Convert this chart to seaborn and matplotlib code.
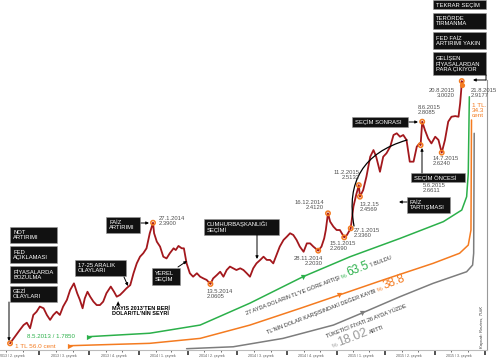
import matplotlib
matplotlib.use("Agg")
import matplotlib.pyplot as plt
import seaborn as sns
import pandas as pd
import numpy as np
from matplotlib.patches import Rectangle, FancyArrowPatch

# ---------------- data ----------------
dates = ["2013-05-08","2013-05-17","2013-05-26","2013-06-02","2013-06-08","2013-06-14","2013-06-20","2013-06-26",
         "2013-07-02","2013-07-09","2013-07-15","2013-07-21","2013-07-27","2013-08-02","2013-08-08","2013-08-14",
         "2013-08-21","2013-08-27","2013-09-03","2013-09-09","2013-09-14","2013-09-19","2013-09-23","2013-09-28",
         "2013-10-03","2013-10-09","2013-10-15","2013-10-21","2013-10-27","2013-11-02","2013-11-10","2013-11-16",
         "2013-11-21","2013-11-27","2013-12-03","2013-12-09","2013-12-16","2013-12-22","2013-12-28","2014-01-03",
         "2014-01-09","2014-01-15","2014-01-21","2014-01-27","2014-01-29","2014-02-03","2014-02-09","2014-02-15",
         "2014-02-21","2014-02-27","2014-03-06","2014-03-10","2014-03-15","2014-03-21","2014-03-25","2014-03-30",
         "2014-04-05","2014-04-11","2014-04-18","2014-04-24","2014-04-30","2014-05-06","2014-05-13","2014-05-18",
         "2014-05-25","2014-05-31","2014-06-06","2014-06-12","2014-06-18","2014-06-24","2014-06-30","2014-07-07",
         "2014-07-13","2014-07-19","2014-07-25","2014-07-31","2014-08-06","2014-08-13","2014-08-19","2014-08-25",
         "2014-08-31","2014-09-06","2014-09-12","2014-09-18","2014-09-25","2014-10-01","2014-10-07","2014-10-13",
         "2014-10-19","2014-10-25","2014-11-01","2014-11-07","2014-11-13","2014-11-19","2014-11-28","2014-12-04",
         "2014-12-09","2014-12-12","2014-12-16","2014-12-20","2014-12-26","2015-01-01","2015-01-07","2015-01-15",
         "2015-01-20","2015-01-27","2015-02-01","2015-02-06","2015-02-11","2015-02-13","2015-02-19","2015-02-25",
         "2015-03-04","2015-03-10","2015-03-15","2015-03-19","2015-03-22","2015-03-28","2015-04-03","2015-04-10",
         "2015-04-16","2015-04-22","2015-04-28","2015-05-04","2015-05-10","2015-05-16","2015-05-23","2015-05-29",
         "2015-06-03","2015-06-05","2015-06-08","2015-06-13","2015-06-19","2015-06-25","2015-07-02","2015-07-08",
         "2015-07-14","2015-07-20","2015-07-26","2015-08-01","2015-08-08","2015-08-14","2015-08-17","2015-08-19",
         "2015-08-20","2015-08-21"]
usd_try = [1.785,1.816,1.847,1.870,1.881,1.855,1.917,1.932,
           1.956,1.948,1.917,1.894,1.917,1.932,1.917,1.956,
           1.987,2.033,2.064,2.018,1.987,1.948,1.994,2.025,
           2.002,1.979,1.963,1.963,1.979,2.018,2.049,2.025,
           2.002,2.010,2.025,2.041,2.056,2.111,2.157,2.188,
           2.204,2.227,2.297,2.346,2.297,2.258,2.235,2.188,
           2.180,2.204,2.227,2.219,2.238,2.227,2.227,2.157,
           2.111,2.095,2.111,2.095,2.087,2.080,2.061,2.087,
           2.103,2.118,2.095,2.126,2.142,2.134,2.126,2.134,
           2.126,2.111,2.095,2.134,2.157,2.173,2.188,2.173,
           2.173,2.157,2.196,2.235,2.266,2.281,2.297,2.289,
           2.266,2.235,2.211,2.250,2.250,2.235,2.216,2.235,
           2.273,2.312,2.390,2.351,2.328,2.312,2.312,2.278,
           2.289,2.320,2.421,2.475,2.521,2.467,2.498,2.560,
           2.653,2.684,2.653,2.614,2.583,2.653,2.669,2.700,
           2.754,2.762,2.746,2.754,2.731,2.630,2.630,2.700,
           2.715,2.707,2.816,2.777,2.738,2.715,2.746,2.731,
           2.672,2.731,2.816,2.839,2.842,2.839,2.901,2.963,
           3.005,2.987]

marker_dates = ["2014-01-27","2014-05-13","2014-11-28","2014-12-16","2015-01-15","2015-01-27",
                "2015-02-11","2015-02-13","2015-06-05","2015-06-08","2015-07-14","2015-08-20"]
start_date, end_date = "2013-05-08", "2015-08-21"

green_dates = ["2013-09-30","2014-01-21","2014-04-24","2014-07-25","2014-10-31","2015-01-26",
               "2015-04-28","2015-07-17","2015-08-20","2015-08-29","2015-09-01","2015-09-03"]
green_vals = [1.816,1.832,1.870,1.972,2.095,2.188,2.273,2.351,2.405,2.467,2.576,2.932]
orange_dates = ["2013-08-26","2014-01-21","2014-04-24","2014-07-25","2014-10-26","2015-01-06",
                "2015-03-28","2015-06-28","2015-08-16","2015-09-01","2015-09-06","2015-09-07"]
orange_vals = [1.774,1.785,1.808,1.870,1.948,2.010,2.080,2.157,2.204,2.242,2.312,2.824]
gray_dates = ["2014-03-30","2014-06-24","2014-09-24","2014-12-26","2015-02-16","2015-04-28",
              "2015-06-28","2015-08-29","2015-09-09","2015-09-11","2015-09-12"]
gray_vals = [1.760,1.769,1.808,1.870,1.925,2.002,2.064,2.118,2.149,2.204,2.762]
tri_idx = {"green": 4, "orange": 5, "gray": 4}

quarter_starts = ["2013-07-01","2013-10-01","2014-01-01","2014-04-01","2014-07-01","2014-10-01",
                  "2015-01-01","2015-04-01","2015-07-01","2015-10-01"]
quarter_mids = ["2013-05-12","2013-08-15","2013-11-15","2014-02-14","2014-05-15","2014-08-15",
                "2014-11-15","2015-02-14","2015-05-15","2015-08-15"]
quarter_labels = ["2013 / 2. çeyrek","2013 / 3. çeyrek","2013 / 4. çeyrek","2014 / 1. çeyrek",
                  "2014 / 2. çeyrek","2014 / 3. çeyrek","2014 / 4. çeyrek","2015 / 1. çeyrek",
                  "2015 / 2. çeyrek","2015 / 3. çeyrek"]

# ---------------- style ----------------
RED = "#a3181d"; GREEN = "#2bb04a"; ORANGE = "#f47b20"; GRAY = "#7d7d7d"; LBL = "#505050"
W, H = 500, 360
sns.set_theme(style="white")
plt.rcParams["font.family"] = ["Liberation Sans", "DejaVu Sans"]

fig = plt.figure(figsize=(5, 3.6), dpi=100)
ax = fig.add_axes([0, 10 / H, 487 / W, 350 / H])
ax.set_facecolor("white")

df = pd.DataFrame({"date": pd.to_datetime(dates), "usd_try": usd_try})
sns.lineplot(data=df, x="date", y="usd_try", ax=ax, color=RED, lw=1.3, estimator=None, sort=False, zorder=4)

curves = [(green_dates, green_vals, GREEN, "green"), (orange_dates, orange_vals, ORANGE, "orange"),
          (gray_dates, gray_vals, GRAY, "gray")]
for cd, cv, col, name in curves:
    cdf = pd.DataFrame({"date": pd.to_datetime(cd), "v": cv})
    sns.lineplot(data=cdf, x="date", y="v", ax=ax, color=col, lw=1.1, estimator=None, sort=False, zorder=2)
    i = tri_idx[name]
    ax.scatter([cdf["date"][i]], [cdf["v"][i]], marker="v", s=14, color=col, zorder=3, linewidths=0)
for cd, cv, col in [(green_dates, green_vals, GREEN), (orange_dates, orange_vals, ORANGE)]:
    ax.scatter([pd.to_datetime(cd[0])], [cv[0]], marker=">", s=14, color=col, zorder=3, linewidths=0)

s = df.set_index("date")["usd_try"]
md = pd.to_datetime(marker_dates)
ax.scatter(md, s.loc[md].values, s=10, facecolors="none", edgecolors=ORANGE, linewidths=1.1, zorder=5)
ax.scatter([pd.to_datetime(start_date)], [s.loc[start_date]], s=10, facecolors="none",
           edgecolors=ORANGE, linewidths=1.1, zorder=5)
ax.scatter([pd.to_datetime(end_date)], [s.loc[end_date]], s=14, color=ORANGE, zorder=5, linewidths=0)

base = pd.Timestamp("2013-05-08")
ax.set_xlim(base - pd.Timedelta(days=18.5), base + pd.Timedelta(days=880.6))
ax.set_ylim(1.754, 3.382)
ax.set_xlabel(""); ax.set_ylabel("")
ax.set_yticks([])
ax.set_xticks(pd.to_datetime(quarter_starts))
ax.set_xticklabels([])
ax.set_xticks(pd.date_range("2013-05-01", "2015-10-01", freq="MS"), minor=True)
ax.tick_params(axis="x", which="major", length=3.5, width=1.1, color="#222", direction="out", bottom=True)
ax.tick_params(axis="x", which="minor", length=1.5, width=0.6, color="#555", direction="out", bottom=True)
for side in ["top", "left"]:
    ax.spines[side].set_visible(False)
ax.spines["bottom"].set_color("#bbbbbb"); ax.spines["bottom"].set_linewidth(0.8)
ax.spines["right"].set_color("#999999"); ax.spines["right"].set_linewidth(0.8)
ax.spines["right"].set_bounds(1.754, 3.01)
xt = ax.get_xaxis_transform()
for d, lab in zip(pd.to_datetime(quarter_mids), quarter_labels):
    ax.text(d, -0.018, lab, transform=xt, fontsize=2.6, color="#555", ha="center", va="center")

# ---------------- annotation helpers (pixel layout) ----------------
def P(px, py):
    return (px / W, 1 - py / H)

def box(x0, y0, x1, y1, text, fs=4.2):
    fig.add_artist(Rectangle(P(x0, y1), (x1 - x0) / W, (y1 - y0) / H, transform=fig.transFigure,
                             facecolor="#111111", edgecolor="#9a9a9a", lw=0.4, zorder=6))
    fig.text(*P(x0 + 3, (y0 + y1) / 2 + 0.3), text, color="white", fontsize=fs, ha="left", va="center",
             linespacing=1.05, zorder=7)

def arrow(x0, y0, x1, y1, rad=0.0, head=True, lw=0.7):
    fig.add_artist(FancyArrowPatch(P(x0, y0), P(x1, y1), transform=fig.transFigure,
                                   arrowstyle="-|>" if head else "-", mutation_scale=4, lw=lw, color="black",
                                   connectionstyle=f"arc3,rad={rad}", shrinkA=0, shrinkB=0, zorder=6))

def label(px, py, text, ha="left", color=LBL, fs=4.2, **kw):
    fig.text(*P(px, py), text, color=color, fontsize=fs, ha=ha, va="top", linespacing=1.0, zorder=7, **kw)

def run(px, py, ang, pieces, gap=1.2):
    r = fig.canvas.get_renderer()
    c, sn = np.cos(np.radians(ang)), np.sin(np.radians(ang))
    pos = 0.0
    for txt, col, fs in pieces:
        x, y = px + pos * c, py - pos * sn
        fig.text(*P(x, y), txt, color=col, fontsize=fs, rotation=ang, rotation_mode="anchor",
                 ha="left", va="baseline", zorder=7)
        tmp = fig.text(0, 0, txt, fontsize=fs)
        pos += tmp.get_window_extent(r).width + gap
        tmp.remove()

# left stack
box(10, 227, 57, 243, "NOT\nARTIRIMI")
box(10, 246, 57, 263, "FED\nAÇIKLAMASI")
box(10, 266, 57, 283, "PİYASALARDA\nBOZULMA")
box(10, 286, 57, 302, "GEZİ\nOLAYLARI")
arrow(9, 302, 9, 341)

box(75, 260, 126, 276, "17-25 ARALIK\nOLAYLARI")
arrow(124, 277, 128, 286)
fig.text(*P(118, 304), "▲", fontsize=4, color="black", ha="center", va="center", family="DejaVu Sans")
fig.text(*P(112, 306), "MAYIS 2013'TEN BERİ\nDOLAR/TL'NİN SEYRİ", fontsize=4.0, fontweight="bold",
         color="black", ha="left", va="top", linespacing=1.1)

box(106, 217, 140, 233, "FAİZ\nARTIRIMI")
arrow(141, 223, 149, 223)
box(152, 268, 180, 285, "YEREL\nSEÇİM")
arrow(178, 267, 187, 261)
box(204, 219, 279, 235, "CUMHURBAŞKANLIĞI\nSEÇİMİ")
arrow(257, 235, 257, 259)

box(352, 117, 408, 127, "SEÇİM SONRASI")
arrow(409, 122, 418, 122)
box(411, 173, 465, 182, "SEÇİM ÖNCESİ")
arrow(422, 173, 422, 148)
box(407, 197, 450, 213, "FAİZ\nTARTIŞMASI")
arrow(407, 202, 399, 202)
arrow(354, 226, 407, 140, rad=-0.45, head=False, lw=0.9)

# right stack
box(433, 0, 486, 9, "TEKRAR SEÇİM")
box(433, 13, 486, 29, "TERÖRDE\nTIRMANMA")
box(433, 32, 486, 49, "FED FAİZ\nARTIRIMI YAKIN")
box(433, 52, 486, 75, "GELİŞEN\nPİYASALARDAN\nPARA ÇIKIYOR")
arrow(486, 75, 486, 80, head=False)
arrow(486, 80, 473, 80)

# date / value labels
label(159, 216, "27.1.2014\n2.3900")
label(207, 289, "13.5.2014\n2.0605")
label(323, 256, "28.11.2014\n2.2030", ha="right")
label(324, 200, "16.12.2014\n2.4120", ha="right")
label(330, 241, "15.1.2015\n2.2690")
label(354, 228, "27.1.2015\n2.3360")
label(360, 170, "11.2.2015\n2.5132", ha="right")
label(360, 202, "13.2.15\n2.4569")
label(423, 183, "5.6.2015\n2.6611")
label(418, 105, "8.6.2015\n2.8085")
label(433, 156, "14.7.2015\n2.6240")
label(455, 88, "20.8.2015\n3.0020", ha="right")
label(471, 88, "21.8.2015\n2.9177")
label(472, 103, "1 TL.\n34.3\ncent", color=ORANGE, fs=4.6)

fig.text(*P(27, 337), "8.5.2013 / 1.7850", color=GREEN, fontsize=4.4, ha="left", va="center")
fig.text(*P(15, 346), "1 TL 56.0 cent", color=ORANGE, fontsize=4.6, ha="left", va="center")

# rotated messages
run(247, 315, 21, [("27 AYDA DOLARIN TL'YE GÖRE ARTIŞI", "#333333", 4.0), ("%", GREEN, 4.6),
                   ("63.5", GREEN, 8.5), ("'İ BULDU", "#333333", 4.0)])
run(268, 334, 21, [("TL'NİN DOLAR KARŞISINDAKİ DEĞER KAYBI", "#333333", 4.0), ("%", ORANGE, 4.6),
                   ("38.8", ORANGE, 8.5)])
run(327, 338, 21, [("TÜKETİCİ FİYATI 26 AYDA YÜZDE", "#333333", 4.0)])
run(333, 348, 21, [("%", "#9a9a9a", 4.6), ("18.02", "#9a9a9a", 9.0), ("ARTTI", "#333333", 4.0)])

fig.text(*P(482, 327), "Kaynak: Reuters, TÜİK", rotation=90, fontsize=3.0, style="italic",
         color="#333333", ha="center", va="center")

fig.savefig("out.png", dpi=100, facecolor="white")
